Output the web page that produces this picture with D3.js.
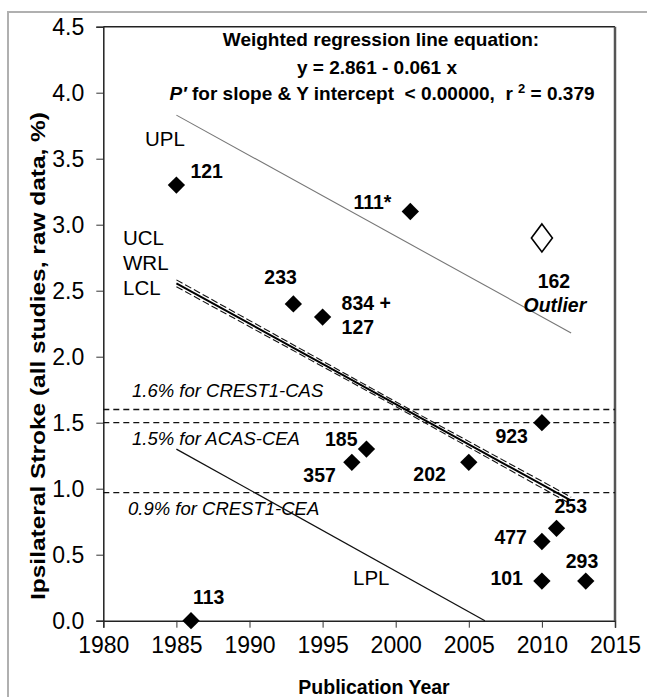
<!DOCTYPE html>
<html>
<head>
<meta charset="utf-8">
<script src="https://cdn.jsdelivr.net/npm/d3@7"></script>
<style>
body { margin: 0; background: #fff; }
text { font-family: Arial, "Liberation Sans", sans-serif; fill: #000; white-space: pre; }
</style>
</head>
<body>
<script>
const WIDTH = 647;
const HEIGHT = 697;
const LEFT = 103.3, RIGHT = 615, TOP = 26.7, BOTTOM = 620.7;

// studies
const studyYear  = [1985, 1986, 1993, 1995, 1997, 1998, 2001, 2005, 2010, 2010, 2010, 2011, 2013];
const studyRate  = [3.3, 0.0, 2.4, 2.3, 1.2, 1.3, 3.1, 1.2, 1.5, 0.6, 0.3, 0.7, 0.3];
const studyLabel = ['121', '113', '233', '834 +|127', '357', '185', '111*', '202', '923', '477', '101', '253', '293'];
const outlierYear = [2010];
const outlierRate = [2.9];
const outlierLabel = ['162', 'Outlier'];

// regression line + bands
const bandYears = [1985, 2000, 2012];
const wrlRate = [2.556, 1.641, 0.909];
const uclRate = [2.582, 1.659, 0.936];
const lclRate = [2.530, 1.623, 0.882];
const uplYears = [1985, 2012];
const uplRate = [3.83, 2.18];
const lplYears = [1985, 2006.1];
const lplRate = [1.30, 0.0];

// reference rates
const refRate = [1.6, 1.5, 0.97];
const refText = ['1.6% for CREST1-CAS', '1.5% for ACAS-CEA', '0.9% for CREST1-CEA'];

const xTicks = [1980, 1985, 1990, 1995, 2000, 2005, 2010, 2015];
const yTicks = [0, 0.5, 1, 1.5, 2, 2.5, 3, 3.5, 4, 4.5];

// label placement (dx, dy, anchor) for each study
const labelPos = [[14,-7,'start'], [2,-17,'start'], [-29,-20,'start'], [19,-7,'start'], [-16,20,'end'],
  [-9,-3,'end'], [-19,-3,'end'], [-23,19,'end'], [-14,20,'end'], [-15,2,'end'], [-19,4,'end'],
  [-2,-15,'start'], [-20,-13,'start']];

var svg = d3.select('body').append('svg')
  .attr('width', WIDTH)
  .attr('height', HEIGHT);

// outer frame
svg.append('rect')
  .attr('x', 8).attr('y', 12)
  .attr('width', WIDTH + 20).attr('height', HEIGHT + 20)
  .attr('fill', 'none').attr('stroke', '#b0b0b0').attr('stroke-width', 2);

var x = d3.scaleLinear().domain([1980, 2015]).range([LEFT, RIGHT]);
var y = d3.scaleLinear().domain([0, 4.5]).range([BOTTOM, TOP]);

// plot box top/right
svg.append('line').attr('x1', LEFT).attr('x2', RIGHT).attr('y1', TOP).attr('y2', TOP)
  .attr('stroke', '#222').attr('stroke-width', 1.5);
svg.append('line').attr('x1', RIGHT).attr('x2', RIGHT).attr('y1', TOP).attr('y2', BOTTOM)
  .attr('stroke', '#555').attr('stroke-width', 2.5);

var yAxis = d3.axisLeft(y).tickValues(yTicks).tickFormat(d3.format('.1f')).tickSize(7).tickPadding(12);
svg.append('g').attr('transform', 'translate(' + LEFT + ',0)').call(yAxis)
  .call(g => g.select('.domain').attr('stroke', '#222').attr('stroke-width', 1.5))
  .call(g => g.selectAll('.tick line').attr('stroke', '#333'))
  .call(g => g.selectAll('text').attr('font-size', 23).attr('font-family', 'Arial, "Liberation Sans", sans-serif').attr('dy', '0.36em'));

var xAxis = d3.axisBottom(x).tickValues(xTicks).tickFormat(d3.format('d')).tickSize(7).tickPadding(9);
svg.append('g').attr('transform', 'translate(0,' + BOTTOM + ')').call(xAxis)
  .call(g => g.select('.domain').attr('stroke', '#222').attr('stroke-width', 1.5))
  .call(g => g.selectAll('.tick line').attr('stroke', '#333'))
  .call(g => g.selectAll('text').attr('font-size', 23).attr('font-family', 'Arial, "Liberation Sans", sans-serif'));

// axis titles
svg.append('text')
  .attr('transform', 'translate(45,356) rotate(-90)')
  .attr('text-anchor', 'middle')
  .attr('font-weight', 'bold').attr('font-size', 20.5)
  .attr('textLength', 488).attr('lengthAdjust', 'spacingAndGlyphs')
  .text('Ipsilateral Stroke (all studies, raw data, %)');
svg.append('text')
  .attr('x', 374).attr('y', 694)
  .attr('text-anchor', 'middle')
  .attr('font-weight', 'bold').attr('font-size', 19.5)
  .text('Publication Year');

// equation block
var eq = svg.append('g').attr('font-weight', 'bold').attr('font-size', 19).attr('text-anchor', 'middle');
eq.append('text').attr('x', 381).attr('y', 46).text('Weighted regression line equation:');
eq.append('text').attr('x', 377).attr('y', 74).text('y = 2.861 - 0.061 x');
var l3 = eq.append('text').attr('x', 382).attr('y', 100);
l3.append('tspan').attr('font-style', 'italic').text('P′');
l3.append('tspan').text(' for slope & Y intercept  < 0.00000,  r ');
l3.append('tspan').attr('font-size', 13).attr('dy', -7).text('2');
l3.append('tspan').attr('dy', 7).text(' = 0.379');

// reference dashed lines
svg.append('g').selectAll('line').data(refRate).enter().append('line')
  .attr('x1', LEFT).attr('x2', RIGHT)
  .attr('y1', d => y(d)).attr('y2', d => y(d))
  .attr('stroke', '#111').attr('stroke-width', 1.3).attr('stroke-dasharray', '6,4');
var refDy = [-13, 22, 22];
svg.append('g').selectAll('text').data(refText).enter().append('text')
  .attr('x', (d, i) => i == 2 ? 128 : 132)
  .attr('y', (d, i) => y(refRate[i]) + refDy[i])
  .attr('font-style', 'italic').attr('font-size', 18.5)
  .text(d => d);

// band lines
var lineGen = function(xs){
  return d3.line().x((d, i) => x(xs[i])).y(d => y(d));
};
svg.append('path').attr('d', lineGen(uplYears)(uplRate))
  .attr('fill', 'none').attr('stroke', '#777').attr('stroke-width', 1.1);
svg.append('path').attr('d', lineGen(lplYears)(lplRate))
  .attr('fill', 'none').attr('stroke', '#111').attr('stroke-width', 1.3);
svg.append('path').attr('d', lineGen(bandYears)(uclRate))
  .attr('fill', 'none').attr('stroke', '#111').attr('stroke-width', 1.1).attr('stroke-dasharray', '7,3');
svg.append('path').attr('d', lineGen(bandYears)(lclRate))
  .attr('fill', 'none').attr('stroke', '#111').attr('stroke-width', 1.1).attr('stroke-dasharray', '7,3');
svg.append('path').attr('d', lineGen(bandYears)(wrlRate))
  .attr('fill', 'none').attr('stroke', '#000').attr('stroke-width', 2);

// band labels
var bandLabels = [['UPL', 145, 146], ['UCL', 123, 245], ['WRL', 123, 270], ['LCL', 123, 295], ['LPL', 353, 585]];
svg.append('g').selectAll('text').data(bandLabels).enter().append('text')
  .attr('x', d => d[1]).attr('y', d => d[2])
  .attr('font-size', 20.5)
  .text(d => d[0]);

// study diamonds
var diamond = d3.symbol().type(d3.symbolSquare).size(150);
svg.append('g').selectAll('path').data(studyYear).enter().append('path')
  .attr('d', diamond)
  .attr('transform', (d, i) => 'translate(' + x(d) + ',' + y(studyRate[i]) + ') rotate(45)')
  .attr('fill', '#000');

var labels = svg.append('g').attr('font-weight', 'bold').attr('font-size', 20.5);
studyLabel.forEach(function(lab, i){
  var px = x(studyYear[i]) + labelPos[i][0];
  var py = y(studyRate[i]) + labelPos[i][1];
  var t = labels.append('text')
    .attr('transform', 'translate(' + px + ',' + py + ') scale(0.95,1)')
    .attr('text-anchor', labelPos[i][2]);
  lab.split('|').forEach(function(part, k){
    t.append('tspan').attr('x', 0).attr('dy', k == 0 ? 0 : 24).text(part);
  });
});

// outlier (hollow diamond)
var tallDiamond = {
  draw: function(ctx, size){
    var h = Math.sqrt(size) * 0.7, w = h * 0.75;
    ctx.moveTo(0, -h); ctx.lineTo(w, 0); ctx.lineTo(0, h); ctx.lineTo(-w, 0); ctx.closePath();
  }
};
svg.append('g').selectAll('path').data(outlierYear).enter().append('path')
  .attr('d', d3.symbol().type(tallDiamond).size(400))
  .attr('transform', (d, i) => 'translate(' + x(d) + ',' + y(outlierRate[i]) + ')')
  .attr('fill', '#fff').attr('stroke', '#000').attr('stroke-width', 1.6);
labels.append('text')
  .attr('transform', 'translate(' + (x(outlierYear[0]) + 12) + ',' + (y(outlierRate[0]) + 50) + ') scale(0.95,1)')
  .attr('text-anchor', 'middle').text(outlierLabel[0]);
labels.append('text')
  .attr('transform', 'translate(' + (x(outlierYear[0]) + 13) + ',' + (y(outlierRate[0]) + 74) + ') scale(0.95,1)')
  .attr('text-anchor', 'middle').attr('font-style', 'italic').text(outlierLabel[1]);
</script>
</body>
</html>
